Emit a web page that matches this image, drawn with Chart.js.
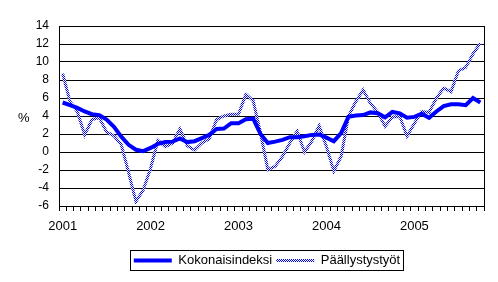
<!DOCTYPE html>
<html>
<head>
<meta charset="utf-8">
<script src="https://cdn.jsdelivr.net/npm/chart.js@4/dist/chart.umd.min.js"></script>
<style>
  html, body { margin: 0; padding: 0; background: #fff; }
  #wrap { width: 498px; height: 282px; position: relative; }
</style>
</head>
<body>
<div id="wrap"><canvas id="chart"></canvas></div>
<script>
// Vuodet ja kuukaudet (tammikuu 2001 - lokakuu 2005)
const years = ["2001", "2002", "2003", "2004", "2005"];
const monthCount = 58;

const kokonaisindeksi = [
  5.5, 5.2, 4.9, 4.5, 4.2, 4.1, 3.6, 2.8, 1.7, 0.8, 0.25, 0.1,
  0.45, 0.9, 1.1, 1.15, 1.5, 1.1, 1.2, 1.55, 1.9, 2.55, 2.6, 3.2,
  3.2, 3.65, 3.7, 2.0, 1.0, 1.15, 1.35, 1.65, 1.65, 1.75, 1.9, 1.95,
  1.6, 1.2, 2.1, 3.9, 4.05, 4.1, 4.4, 4.3, 3.85, 4.45, 4.3, 3.8,
  3.9, 4.25, 3.8, 4.5, 5.1, 5.3, 5.3, 5.2, 6.0, 5.5
];

const paallystystyot = [
  8.7, 5.6, 4.5, 1.9, 3.6, 3.8, 2.2, 1.8, 0.8, -2.3, -5.5, -4.2,
  -1.8, 1.3, 0.6, 1.0, 2.55, 0.7, 0.2, 1.0, 1.45, 3.6, 4.0, 4.2,
  4.2, 6.4, 5.7, 2.1, -1.95, -1.6, -0.5, 1.0, 2.3, 0.0, 1.2, 2.9,
  0.6, -2.1, -0.5, 3.95, 5.6, 6.9, 5.4, 4.4, 2.85, 3.9, 3.95, 1.75,
  3.2, 4.5, 4.4, 6.0, 7.1, 6.7, 9.0, 9.4, 10.9, 12.1
];

const yTicks = { min: -6, max: 14, step: 2 };

const labels = [];
for (let i = 0; i < monthCount; i++) {
  labels.push(years[Math.floor(i / 12)] + "-" + String(i % 12 + 1).padStart(2, "0"));
}

// Ruudullinen viivakuvio ohuelle sarjalle
function checkerPattern() {
  const c = document.createElement("canvas");
  c.width = 2; c.height = 2;
  const g = c.getContext("2d");
  g.fillStyle = "#ffffff"; g.fillRect(0, 0, 2, 2);
  g.fillStyle = "#0000ff"; g.fillRect(0, 0, 1, 1); g.fillRect(1, 1, 1, 1);
  return g.createPattern(c, "repeat");
}

const family = "'Liberation Sans', Arial, sans-serif";
const font = { family: family, size: 13 };
const legendShift = 25;

const frame = {
  id: "frame",
  afterLayout(chart) {
    // legenda hieman oikealle kuten alkuperäisessä
    chart.legend.left += legendShift;
    chart.legend.right += legendShift;
  },
  afterDraw(chart) {
    const ctx = chart.ctx, a = chart.chartArea;
    ctx.save();
    ctx.strokeStyle = "#000";
    ctx.lineWidth = 1;
    ctx.strokeRect(Math.round(a.left) + 0.5, Math.round(a.top) + 0.5,
      Math.round(a.right - a.left), Math.round(a.bottom - a.top));
    // % merkki
    ctx.fillStyle = "#000";
    ctx.font = "13px " + family;
    ctx.textAlign = "left";
    ctx.textBaseline = "middle";
    ctx.fillText("%", 18, 118);
    // legendan kehys
    const hb = chart.legend.legendHitBoxes;
    if (hb && hb.length) {
      const l = hb[0].left - 4;
      const last = hb[hb.length - 1];
      const r = last.left + last.width + 3;
      const t = hb[0].top - 4;
      const b = hb[0].top + hb[0].height + 3;
      ctx.strokeRect(Math.round(l) + 0.5, Math.round(t) + 0.5, Math.round(r - l), Math.round(b - t));
    }
    ctx.restore();
  }
};

new Chart(document.getElementById("chart"), {
  type: "line",
  data: {
    labels: labels,
    datasets: [{
      label: "Kokonaisindeksi",
      data: kokonaisindeksi,
      borderColor: "#0000ff",
      borderWidth: 4,
      pointRadius: 0,
      tension: 0
    }, {
      label: "Päällystystyöt",
      data: paallystystyot,
      borderColor: checkerPattern(),
      borderWidth: 3,
      pointRadius: 0,
      tension: 0
    }]
  },
  options: {
    responsive: true,
    maintainAspectRatio: false,
    animation: false,
    layout: { padding: { left: 0, right: 14, top: 26, bottom: 5 } },
    plugins: {
      tooltip: { enabled: false },
      legend: {
        position: "bottom",
        labels: {
          font: font,
          color: "#000",
          usePointStyle: true,
          pointStyle: "line",
          pointStyleWidth: 38,
          boxHeight: 12,
          padding: 4
        }
      }
    },
    scales: {
      x: {
        offset: true,
        grid: { display: true, drawOnChartArea: false, offset: true, tickLength: 5, color: "#000" },
        border: { display: true, color: "#000" },
        ticks: {
          autoSkip: false,
          maxRotation: 0,
          font: font,
          color: "#000",
          padding: 8,
          callback: (v, i) => (i % 12 === 0 ? years[i / 12] : "")
        },
        afterFit: s => { s.height = 44; }
      },
      y: {
        min: yTicks.min,
        max: yTicks.max,
        grid: { color: "#000", drawTicks: false },
        border: { display: true, color: "#000" },
        ticks: { stepSize: yTicks.step, font: { family: family, size: 12 }, color: "#000", padding: 10 },
        afterFit: s => { s.width = 59; }
      }
    }
  },
  plugins: [frame]
});
</script>
</body>
</html>
